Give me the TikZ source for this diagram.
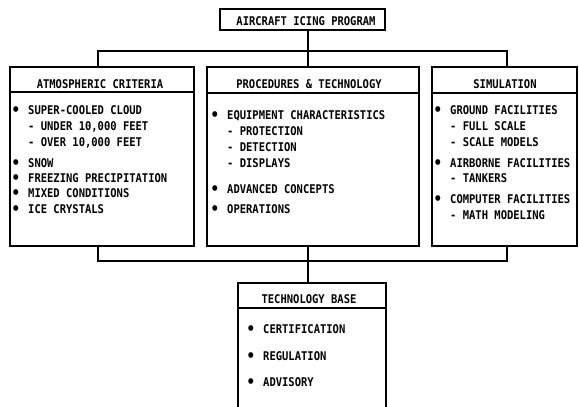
\documentclass[tikz,border=0pt]{standalone}
\usepackage{fontspec}
\newfontfamily\gothic[FakeStretch=0.875]{DejaVu Sans Mono}
\newcommand\bul{\llap{\raisebox{-0.06em}{\scalebox{1.35}{\textbullet}}\hspace{8pt}}}
\tikzset{
  frame/.style={draw, line width=1.6pt, inner sep=0pt, anchor=north west},
  link/.style={draw, line width=1.4pt},
  txt/.style={font=\gothic\bfseries\fontsize{12}{12}\selectfont, inner sep=0pt},
  lbl/.style={txt, anchor=base west},
  head/.style={txt, anchor=base},
}
\begin{document}
\begin{tikzpicture}[x=1pt,y=-1pt]
\useasboundingbox[fill=white] (0,0) rectangle (579,407);

% frames
\node[frame, minimum width=165pt, minimum height=21pt] (prog) at (219,8) {};
\node[frame, minimum width=184pt, minimum height=179pt] (atm) at (9,66) {};
\node[frame, minimum width=212pt, minimum height=179pt] (proc) at (206,66) {};
\node[frame, minimum width=145pt, minimum height=179pt] (sim) at (431,66) {};
\node[frame, minimum width=148pt, minimum height=132pt] (base) at (237,282) {};

% header rules
\draw[link] ([yshift=-26pt]atm.north west) -- ([yshift=-26pt]atm.north east);
\draw[link] ([yshift=-27pt]proc.north west) -- ([yshift=-27pt]proc.north east);
\draw[link] ([yshift=-27pt]sim.north west) -- ([yshift=-27pt]sim.north east);
\draw[link] ([yshift=-26pt]base.north west) -- ([yshift=-26pt]base.north east);

% upper bracket
\coordinate (hub) at (308,51);
\coordinate (lt) at (98,51);
\coordinate (rt) at (507,51);
\draw[link] (prog.south -| hub) -- (hub);
\draw[link] (lt |- atm.north) -- (lt) -- (rt) -- (rt |- sim.north);
\draw[link] (hub) -- (hub |- proc.north);

% lower bracket
\coordinate (bhub) at (308,261);
\coordinate (bl) at (98,261);
\coordinate (br) at (507,261);
\draw[link] (bl |- atm.south) -- (bl) -- (br) -- (br |- sim.south);
\draw[link] (bhub |- proc.south) -- (bhub |- base.north);

% titles
\node[head] (progt) at (306,25) {AIRCRAFT ICING PROGRAM};
\node[head] (atmt) at (100,88) {ATMOSPHERIC CRITERIA};
\node[head] (proct) at (309,88) {PROCEDURES \& TECHNOLOGY};
\node[head] (simt) at (505,88) {SIMULATION};
\node[head] (baset) at (309,303) {TECHNOLOGY BASE};

% atmospheric criteria
\node[lbl] (a1) at (28,114.5) {\bul SUPER-COOLED CLOUD};
\node[lbl] (a2) at (28,130.5) {- UNDER 10,000 FEET};
\node[lbl] (a3) at (28,146.5) {- OVER 10,000 FEET};
\node[lbl] (a4) at (28,167.5) {\bul SNOW};
\node[lbl] (a5) at (28,182.5) {\bul FREEZING PRECIPITATION};
\node[lbl] (a6) at (28,197.5) {\bul MIXED CONDITIONS};
\node[lbl] (a7) at (28,213.5) {\bul ICE CRYSTALS};

% procedures & technology
\node[lbl] (p1) at (227,119.5) {\bul EQUIPMENT CHARACTERISTICS};
\node[lbl] (p2) at (227,135.5) {- PROTECTION};
\node[lbl] (p3) at (227,151.5) {- DETECTION};
\node[lbl] (p4) at (227,167.5) {- DISPLAYS};
\node[lbl] (p5) at (227,193.5) {\bul ADVANCED CONCEPTS};
\node[lbl] (p6) at (227,213.5) {\bul OPERATIONS};

% simulation
\node[lbl] (s1) at (450,114.5) {\bul GROUND FACILITIES};
\node[lbl] (s2) at (450,130.5) {- FULL SCALE};
\node[lbl] (s3) at (450,146.5) {- SCALE MODELS};
\node[lbl] (s4) at (450,167.5) {\bul AIRBORNE FACILITIES};
\node[lbl] (s5) at (450,182.5) {- TANKERS};
\node[lbl] (s6) at (450,203.5) {\bul COMPUTER FACILITIES};
\node[lbl] (s7) at (450,219.5) {- MATH MODELING};

% technology base
\node[lbl] (b1) at (263,333.5) {\bul CERTIFICATION};
\node[lbl] (b2) at (263,360.5) {\bul REGULATION};
\node[lbl] (b3) at (263,386.5) {\bul ADVISORY};
\end{tikzpicture}
\end{document}
